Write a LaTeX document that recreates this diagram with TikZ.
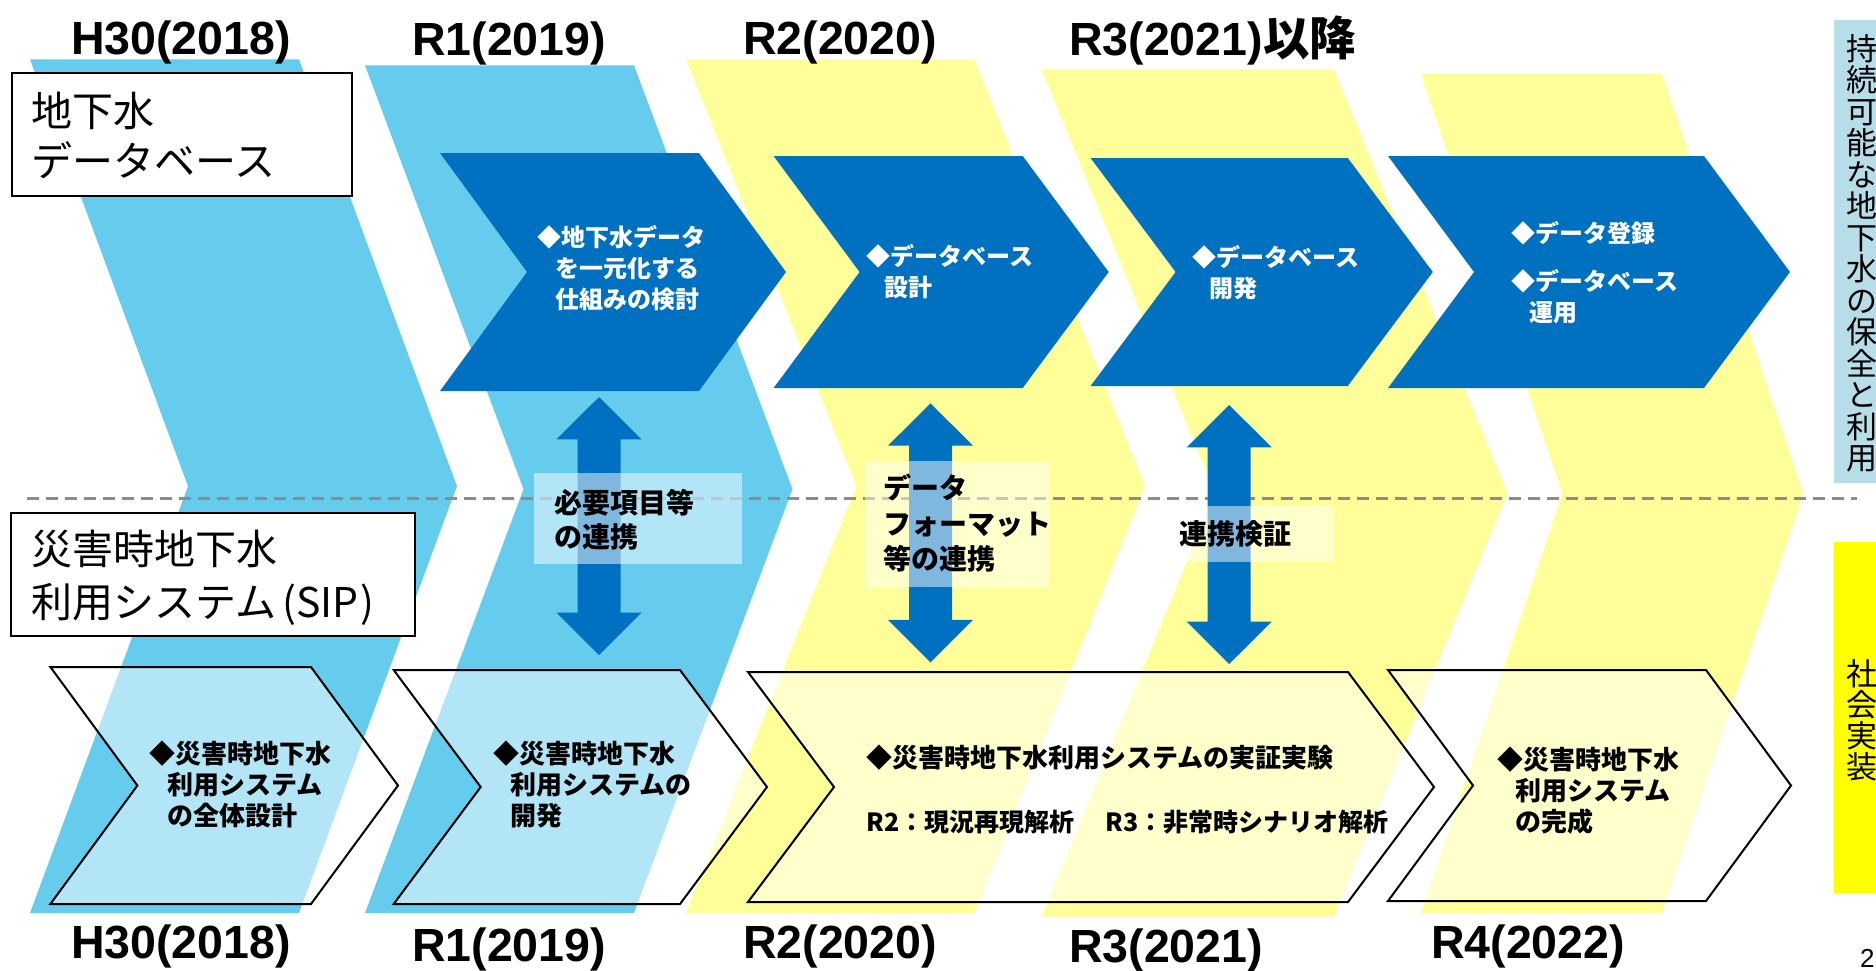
\documentclass[tikz,border=0pt]{standalone}
\usepackage{fontspec}
\setmainfont{Liberation Sans}
\newfontfamily\jpf{Noto Sans CJK JP}
\definecolor{bgblue}{HTML}{66CCEE}
\definecolor{bgyellow}{HTML}{FFFF99}
\definecolor{dkblue}{HTML}{0070C0}
\definecolor{sideteal}{HTML}{B7DEE8}
\definecolor{brightyellow}{HTML}{FFFF00}
\definecolor{dashgray}{HTML}{8C8C8C}
% fixed line strut for CJK lines
\newcommand\jst{\vrule height .9em depth .1em width 0pt}
% chevron: style, left, right, top, bottom, depth
\newcommand\mkchev[6]{\path[#1] (#2,#4) -- (#3,#4) -- ({#3+#6},{(#4+#5)/2}) -- (#3,#5) -- (#2,#5) -- ({#2+#6},{(#4+#5)/2}) -- cycle;}
% double block arrow: centre x, top, bottom
\newcommand\dblarr[3]{\fill[dkblue] ({#1-21.5},{#2+42.4}) -- ({#1-42.5},{#2+42.4}) -- (#1,#2) -- ({#1+42.5},{#2+42.4}) -- ({#1+21.5},{#2+42.4}) -- ({#1+21.5},{#3-42.4}) -- ({#1+42.5},{#3-42.4}) -- (#1,#3) -- ({#1-42.5},{#3-42.4}) -- ({#1-21.5},{#3-42.4}) -- cycle;}
\tikzset{
 yearlbl/.style={font=\fontsize{46.5}{50}\selectfont\bfseries, anchor=base west, inner sep=0pt},
 dktext/.style={font={\jpf\bfseries\fontsize{24}{31}\selectfont\lineskiplimit=-100pt}, text=white, anchor=north west, inner sep=0pt, align=left},
 bttext/.style={font={\jpf\bfseries\fontsize{26}{31}\selectfont\lineskiplimit=-100pt}, anchor=north west, inner sep=0pt, align=left},
 midtext/.style={font={\jpf\bfseries\fontsize{28}{34}\selectfont\lineskiplimit=-100pt}, anchor=north west, inner sep=0pt, align=left},
 boxtext/.style={font={\jpf\fontsize{41}{50}\selectfont\lineskiplimit=-100pt}, anchor=north west, inner sep=0pt, align=left},
 vtext/.style={font={\jpf\fontsize{31}{31.5}\selectfont\lineskiplimit=-100pt}, anchor=north, inner sep=0pt, align=center},
 lblbox/.style={draw=black, line width=2pt, fill=white},
 overlaybox/.style={fill=white, fill opacity=0.5},
 bchev/.style={draw=black, line width=2pt, fill=white, fill opacity=0.5, draw opacity=1},
 dashline/.style={draw=dashgray, line width=2.2pt, dash pattern=on 12pt off 7pt},
}
\begin{document}
\begin{tikzpicture}[x=1pt,y=-1pt]
\useasboundingbox (0,0) rectangle (1876,970);
% background year chevrons
\mkchev{fill=bgblue}{30}{299}{59.3}{913}{158}
\mkchev{fill=bgblue}{365}{634}{65.3}{913}{158.5}
\mkchev{fill=bgyellow}{686}{974.5}{59.3}{913}{170.5}
\mkchev{fill=bgyellow}{1041.5}{1334}{69.3}{916.7}{173.5}
\mkchev{fill=bgyellow}{1421}{1662}{74}{913}{141.5}
% dashed separator
\coordinate (dl) at (27,498.5);
\coordinate (dr) at (1856.5,498.5);
\draw[dashline] (dl) -- (dr);
% side boxes
\fill[sideteal] (1834.4,20) rectangle (1876,483.3);
\fill[brightyellow] (1834.4,541.7) rectangle (1876,893);
\node[vtext] (goal) at (1862,31.9) {\jst 持\\\jst 続\\\jst 可\\\jst 能\\\jst な\\\jst 地\\\jst 下\\\jst 水\\\jst の\\\jst 保\\\jst 全\\\jst と\\\jst 利\\\jst 用};
\node[vtext, font={\jpf\fontsize{31}{31.2}\selectfont\lineskiplimit=-100pt}] (impl) at (1862,656.9) {\jst 社\\\jst 会\\\jst 実\\\jst 装};
% label boxes
\draw[lblbox] (12,72.7) rectangle (352,196);
\node[boxtext] (lbl1) at (31.5,89.7) {\jst 地下水\\\jst データベース};
\draw[lblbox] (11,512.7) rectangle (415,636);
\node[boxtext, font={\jpf\fontsize{41}{52.5}\selectfont\lineskiplimit=-100pt}] (lbl2) at (31.5,527.7) {\jst 災害時地下水\\\jst 利用システム\kern6pt(SIP\kern2pt)};
% dark blue chevrons (groundwater database)
\mkchev{fill=dkblue}{440}{699}{153}{391}{87}
\mkchev{fill=dkblue}{773.6}{1022.7}{156}{388}{86}
\mkchev{fill=dkblue}{1090.6}{1347.8}{158}{386}{85}
\mkchev{fill=dkblue}{1388}{1704}{156}{388}{86}
\node[dktext] (d1) at (537.5,225) {\jst ◆地下水データ\\\jst\hspace*{17.5pt}を一元化する\\\jst\hspace*{17.5pt}仕組みの検討};
\node[dktext] (d2) at (866.5,243.5) {\jst ◆データベース\\\jst\hspace*{17.5pt}設計};
\node[dktext] (d3) at (1192,245) {\jst ◆データベース\\\jst\hspace*{17.5pt}開発};
\node[dktext] (d4) at (1511.5,221) {\jst ◆データ登録\\[16.5pt]\jst ◆データベース\\\jst\hspace*{17.5pt}運用};
% double arrows
\dblarr{599}{397}{655}
\dblarr{930.5}{403.3}{662.3}
\dblarr{1229.2}{405}{664}
% overlay label boxes
\fill[overlaybox] (534,473) rectangle (741.5,564);
\fill[overlaybox] (865,461) rectangle (1048.6,586.7);
\fill[overlaybox] (1185.7,506) rectangle (1333,562.3);
\node[midtext] (m1) at (554.5,488.4) {\jst 必要項目等\\\jst の連携};
\node[midtext, font={\jpf\bfseries\fontsize{28}{35.5}\selectfont\lineskiplimit=-100pt}] (m2) at (883,473.4) {\jst データ\\\jst フォーマット\\\jst 等の連携};
\node[midtext] (m3) at (1179.5,519.4) {\jst 連携検証};
% bottom chevrons (SIP system)
\mkchev{bchev}{50.4}{311}{667}{904}{87}
\mkchev{bchev}{393.7}{680}{670}{904}{87}
\mkchev{bchev}{748}{1348}{672}{902}{86}
\mkchev{bchev}{1388}{1706}{670}{901}{85}
\node[bttext] (b1) at (149.5,739.5) {\jst ◆災害時地下水\\\jst\hspace*{17.5pt}利用システム\\\jst\hspace*{17.5pt}の全体設計};
\node[bttext] (b2) at (493,739.5) {\jst ◆災害時地下水\\\jst\hspace*{17.5pt}利用システムの\\\jst\hspace*{17.5pt}開発};
\node[bttext] (b3) at (866.5,743.5) {\jst ◆災害時地下水利用システムの実証実験\\[33pt]{\fontsize{25}{31}\selectfont\jst R2：現況再現解析\hspace*{31pt}R3：非常時シナリオ解析}};
\node[bttext] (b4) at (1497.5,745.5) {\jst ◆災害時地下水\\\jst\hspace*{17.5pt}利用システム\\\jst\hspace*{17.5pt}の完成};
% year labels
\node[yearlbl] (yt1) at (71,54) {H30(2018)};
\node[yearlbl] (yt2) at (412,55) {R1(2019)};
\node[yearlbl] (yt3) at (743,54) {R2(2020)};
\node[yearlbl] (yt4) at (1069,55) {R3(2021){\jpf\bfseries 以降}};
\node[yearlbl] (yb1) at (71,958.5) {H30(2018)};
\node[yearlbl] (yb2) at (412,961) {R1(2019)};
\node[yearlbl] (yb3) at (743,958.5) {R2(2020)};
\node[yearlbl] (yb4) at (1069,962) {R3(2021)};
\node[yearlbl] (yb5) at (1431,958.5) {R4(2022)};
\node[anchor=base west, inner sep=0pt, font=\fontsize{26}{28}\selectfont] (pg) at (1860,967) {2};
\end{tikzpicture}
\end{document}
